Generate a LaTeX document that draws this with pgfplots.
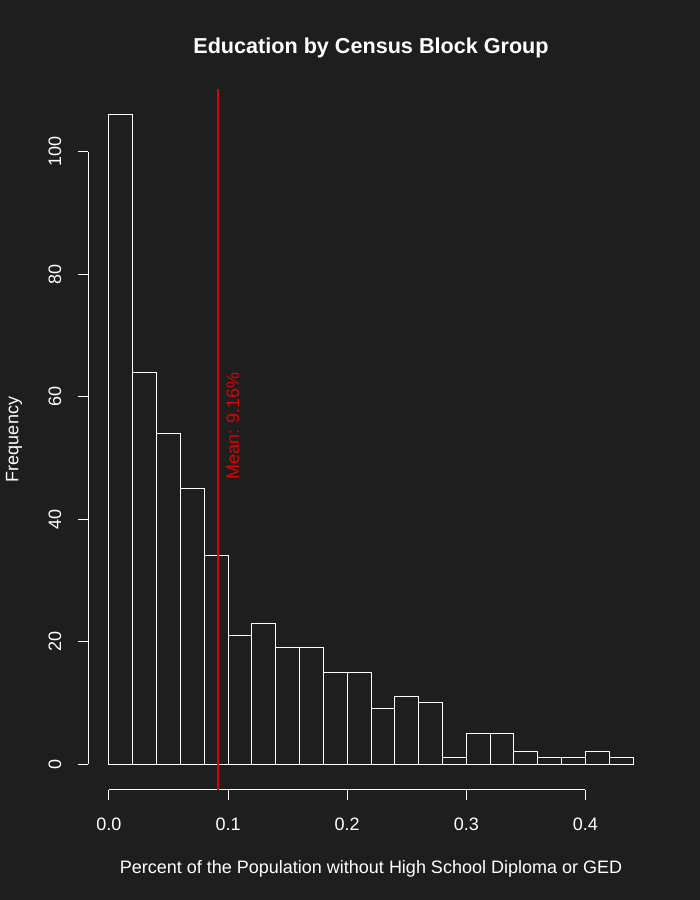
\documentclass[border=0pt]{standalone}
\usepackage{fontspec}
\setmainfont{Liberation Sans}
\usepackage{pgfplots}
\pgfplotsset{compat=1.18}
\definecolor{bgdark}{RGB}{30,30,30}
\definecolor{meanred}{RGB}{215,5,5}

\begin{document}
\begin{tikzpicture}
\fill[bgdark] (0,0) rectangle (350pt,450pt);
\useasboundingbox (0,0) rectangle (350pt,450pt);
\begin{axis}[
    at={(44pt,55pt)}, anchor=south west,
    scale only axis, width=283pt, height=350.5pt,
    xmin=-0.0176, xmax=0.4576, ymin=-4.24, ymax=110.24,
    clip=false,
    axis line style={draw=none},
    xtick={0,0.1,0.2,0.3,0.4}, ytick={0,20,40,60,80,100},
    xtick pos=bottom, ytick pos=left,
    tick align=outside, major tick length=5pt,
    tick style={white, line width=0.5pt},
    /pgf/number format/assume math mode=true,
    ticklabel style={text=white, font=\fontsize{9}{10.8}\selectfont},
    xticklabel style={anchor=center, yshift=-12pt,
        /pgf/number format/.cd, fixed, fixed zerofill, precision=1},
    yticklabel style={xshift=-11.5pt, rotate=90, anchor=center},
    title={Education by Census Block Group},
    title style={at={(axis description cs:0.5,1.0413)}, anchor=center, yshift=0pt,
        text=white, font=\fontsize{10.8}{13}\selectfont\bfseries},
    xlabel={Percent of the Population without High School Diploma or GED},
    xlabel style={at={(axis description cs:0.5,-0.1125)}, anchor=center,
        text=white, font=\fontsize{9}{10.8}\selectfont},
    ylabel={Frequency},
    ylabel style={at={(axis description cs:-0.1307,0.5)}, anchor=center,
        text=white, font=\fontsize{9}{10.8}\selectfont},
]
% histogram bins of width 0.02
\addplot[ybar interval, draw=white, fill=none, line width=0.5pt] coordinates {
    (0.00,106) (0.02,64) (0.04,54) (0.06,45) (0.08,34) (0.10,21)
    (0.12,23) (0.14,19) (0.16,19) (0.18,15) (0.20,15) (0.22,9)
    (0.24,11) (0.26,10) (0.28,1) (0.30,5) (0.32,5) (0.34,2)
    (0.36,1) (0.38,1) (0.40,2) (0.42,1) (0.44,1)
};
% R-style axis lines
\draw[white, line width=0.5pt] (axis cs:0,-4.24) -- (axis cs:0.4,-4.24);
\draw[white, line width=0.5pt] (axis cs:-0.0176,0) -- (axis cs:-0.0176,100);
% mean line
\addplot[meanred, line width=1.3pt] coordinates {(0.0916,-4.24) (0.0916,110.24)};
\node[rotate=90, text=meanred, font=\fontsize{9}{10.8}\selectfont, anchor=center]
    at (axis cs:0.104,55.2) {Mean: 9.16\%};
\end{axis}
\end{tikzpicture}
\end{document}
